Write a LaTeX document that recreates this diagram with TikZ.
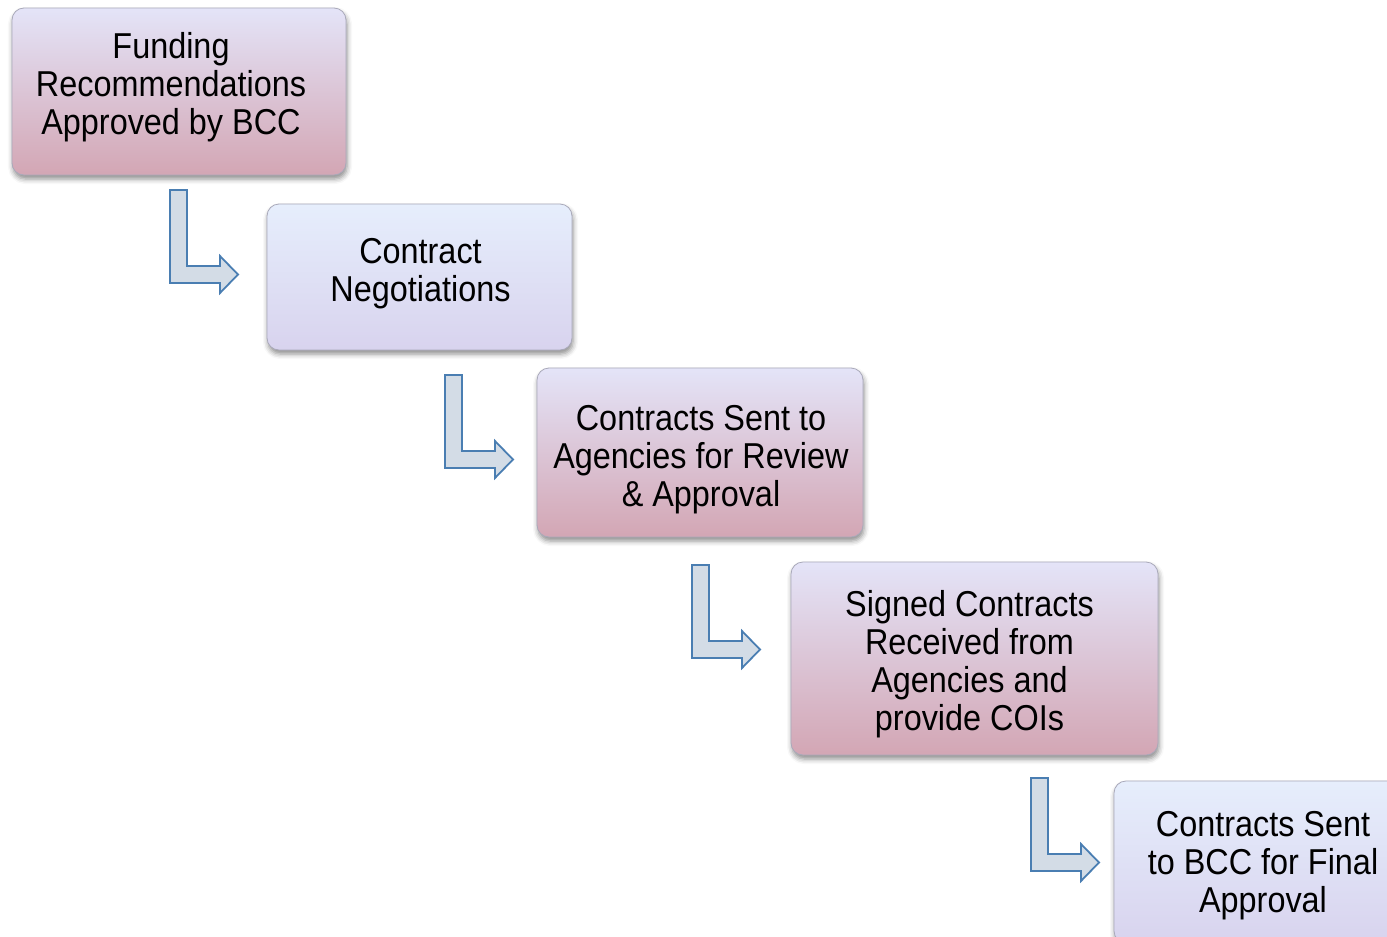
\documentclass[tikz,border=0pt]{standalone}
\usepackage{fontspec}
\setmainfont{Liberation Sans}[FakeStretch=0.9]
\usetikzlibrary{shadows.blur}
\definecolor{pinkbot}{HTML}{D3A6B4}
\definecolor{pinktop}{HTML}{E4E4F8}
\definecolor{lavtop}{HTML}{E6EEFC}
\definecolor{lavbot}{HTML}{D8D3EE}
\definecolor{boxline}{HTML}{A9A9BA}
\definecolor{arrline}{HTML}{4A7EB2}
\definecolor{arrfill}{HTML}{D3DCE6}
\tikzset{
  stepbox/.style={rectangle, rounded corners=12pt, draw=boxline, line width=0.8pt,
    inner sep=0pt,
    blur shadow={shadow xshift=1pt, shadow yshift=-4pt, shadow blur radius=5pt, shadow opacity=45}},
  pinkbox/.style={stepbox, top color=pinktop, bottom color=pinkbot},
  lavbox/.style={stepbox, top color=lavtop, bottom color=lavbot},
  steptext/.style={align=center, inner sep=0pt, font=\fontsize{36}{38}\selectfont},
  arrowshape/.style={draw=arrline, fill=arrfill, line width=1.8pt, line join=miter},
  bentarrow/.pic={
    \draw[arrowshape] (0,0) -- (17,0) -- (17,76) -- (50,76) -- (50,66) -- (68,84.5)
      -- (50,103) -- (50,93) -- (0,93) -- cycle;
  }
}
\begin{document}
\begin{tikzpicture}[x=1pt,y=-1pt]
\useasboundingbox (0,0) rectangle (1387,937);
\clip (0,0) rectangle (1387,937);
\node[pinkbox, minimum width=334pt, minimum height=167pt] (b1) at (179,91.5) {};
\node[steptext] (t1) at ([shift={(-8,-4)}]b1.center)
  {Funding\\Recommendations\\Approved by BCC};
\node[lavbox, minimum width=305pt, minimum height=146pt] (b2) at (419.5,277) {};
\node[steptext] (t2) at ([shift={(1,-3)}]b2.center)
  {Contract\\Negotiations};
\node[pinkbox, minimum width=326pt, minimum height=169pt] (b3) at (700,452.5) {};
\node[steptext] (t3) at ([shift={(1,7)}]b3.center)
  {Contracts Sent to\\Agencies for Review\\\& Approval};
\node[pinkbox, minimum width=367pt, minimum height=193pt] (b4) at (974.5,658.5) {};
\node[steptext] (t4) at ([shift={(-5,6)}]b4.center)
  {Signed Contracts\\Received from\\Agencies and\\provide COIs};
\node[lavbox, minimum width=298pt, minimum height=162pt] (b5) at (1263,862) {};
\node[steptext] (t5) at ([shift={(0,4)}]b5.center)
  {Contracts Sent\\to BCC for Final\\Approval};
\coordinate (a1) at (170,190);
\coordinate (a2) at (445,375);
\coordinate (a3) at (692,565);
\coordinate (a4) at (1031,778);
\pic at (a1) {bentarrow};
\pic at (a2) {bentarrow};
\pic at (a3) {bentarrow};
\pic at (a4) {bentarrow};
\end{tikzpicture}
\end{document}
